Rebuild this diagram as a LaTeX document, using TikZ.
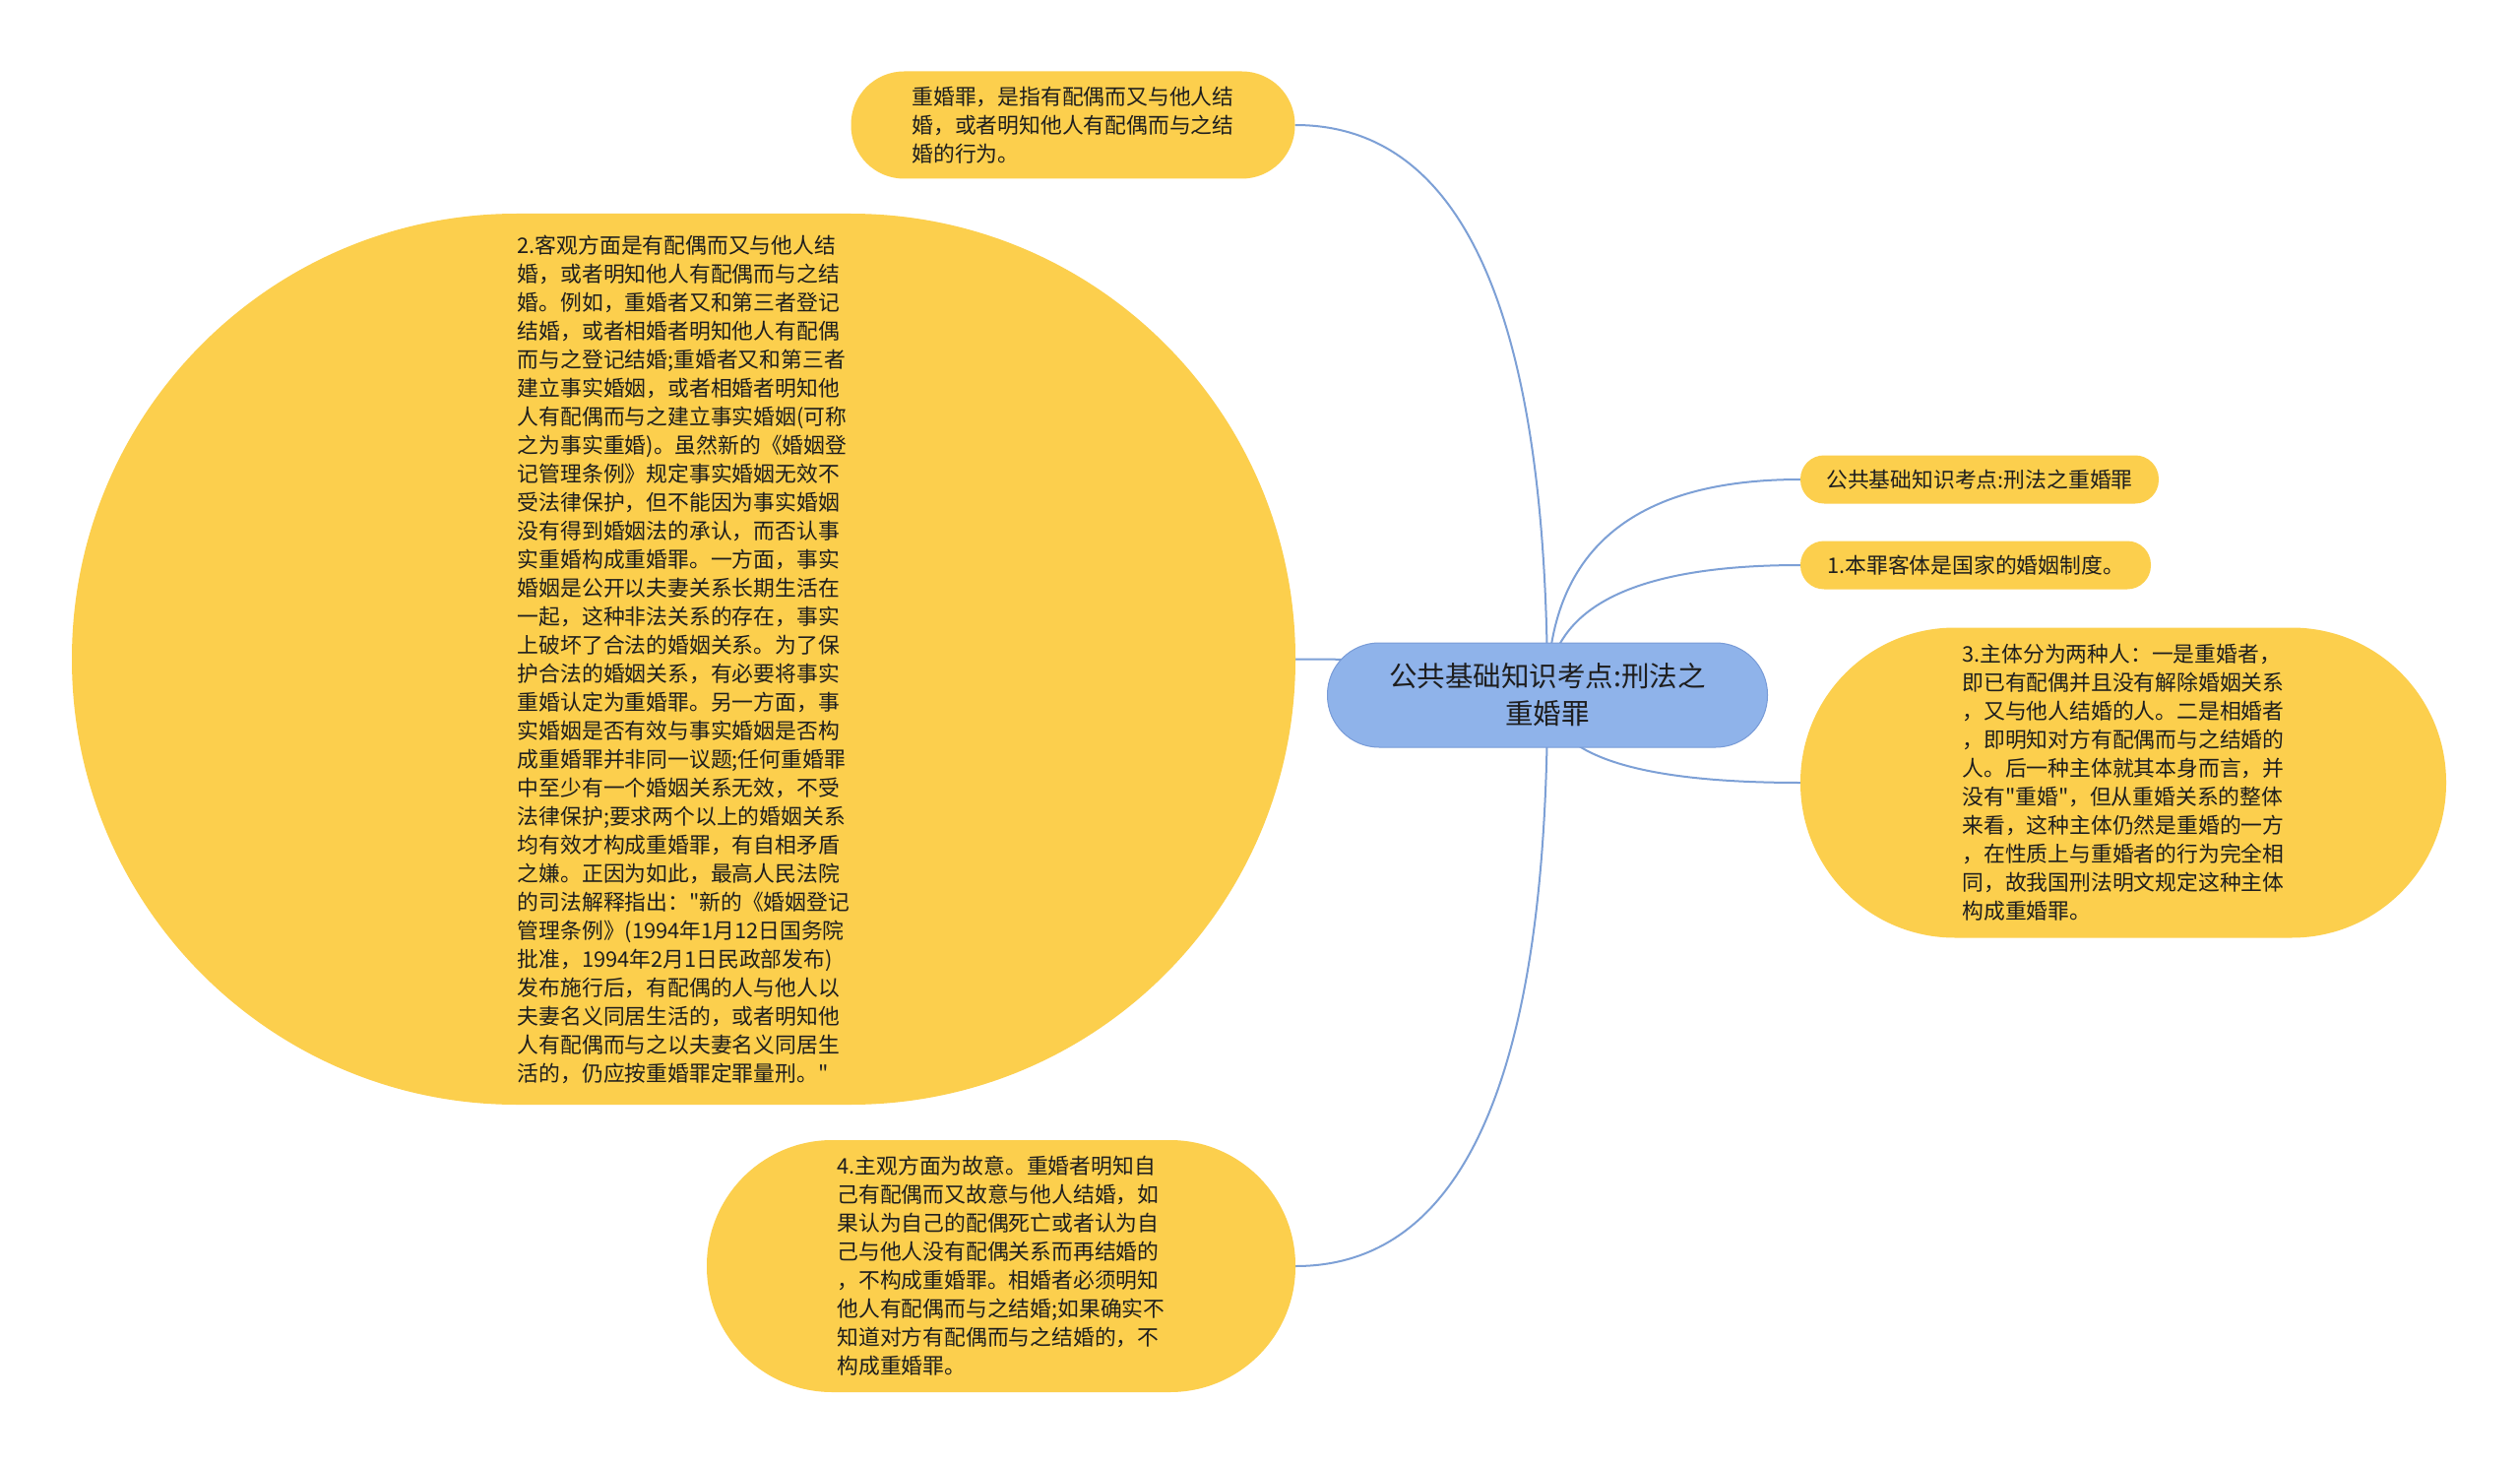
\documentclass[tikz,border=0pt]{standalone}
\usepackage{fontspec}
\newfontfamily\cjk{Noto Sans CJK SC}
\usetikzlibrary{backgrounds,calc}
\definecolor{nodeyellow}{RGB}{252,207,77}
\definecolor{rootblue}{RGB}{143,179,234}
\definecolor{rootedge}{RGB}{120,155,215}
\definecolor{linkblue}{RGB}{125,160,214}
\definecolor{txt}{RGB}{30,30,30}
\begin{document}
\begin{tikzpicture}[x=1pt,y=-1pt,
  leaf/.style={rectangle, fill=nodeyellow, inner sep=0pt, align=left, text=txt,
    font=\cjk\fontsize{21.8pt}{29pt}\selectfont},
  rootnode/.style={rectangle, fill=rootblue, draw=rootedge, line width=1pt, inner sep=0pt,
    align=center, text=txt, font=\cjk\fontsize{28.5pt}{38pt}\selectfont},
  link/.style={draw=linkblue, line width=2pt}]
\useasboundingbox (0,0) rectangle (2560,1487);

\node[rootnode, minimum width=447pt, minimum height=106pt, rounded corners=52.5pt] (root) at (1572,706)
  {公共基础知识考点:刑法之\\重婚罪};

\node[leaf, minimum width=451pt, minimum height=109pt, rounded corners=54pt] (top) at (1090,127)
  {重婚罪，是指有配偶而又与他人结\\婚，或者明知他人有配偶而与之结\\婚的行为。};

\node[leaf, minimum width=1243pt, minimum height=905pt, rounded corners=452pt] (big) at (694.5,669.5)
  {2.客观方面是有配偶而又与他人结\\
   婚，或者明知他人有配偶而与之结\\
   婚。例如，重婚者又和第三者登记\\
   结婚，或者相婚者明知他人有配偶\\
   而与之登记结婚;重婚者又和第三者\\
   建立事实婚姻，或者相婚者明知他\\
   人有配偶而与之建立事实婚姻(可称\\
   之为事实重婚)。虽然新的《婚姻登\\
   记管理条例》规定事实婚姻无效不\\
   受法律保护，但不能因为事实婚姻\\
   没有得到婚姻法的承认，而否认事\\
   实重婚构成重婚罪。一方面，事实\\
   婚姻是公开以夫妻关系长期生活在\\
   一起，这种非法关系的存在，事实\\
   上破坏了合法的婚姻关系。为了保\\
   护合法的婚姻关系，有必要将事实\\
   重婚认定为重婚罪。另一方面，事\\
   实婚姻是否有效与事实婚姻是否构\\
   成重婚罪并非同一议题;任何重婚罪\\
   中至少有一个婚姻关系无效，不受\\
   法律保护;要求两个以上的婚姻关系\\
   均有效才构成重婚罪，有自相矛盾\\
   之嫌。正因为如此，最高人民法院\\
   的司法解释指出："新的《婚姻登记\\
   管理条例》(1994年1月12日国务院\\
   批准，1994年2月1日民政部发布)\\
   发布施行后，有配偶的人与他人以\\
   夫妻名义同居生活的，或者明知他\\
   人有配偶而与之以夫妻名义同居生\\
   活的，仍应按重婚罪定罪量刑。"};

\node[leaf, minimum width=364pt, minimum height=49pt, rounded corners=24pt] (r1) at (2011,487)
  {公共基础知识考点:刑法之重婚罪};

\node[leaf, minimum width=356pt, minimum height=49pt, rounded corners=24pt] (r2) at (2007,574)
  {1.本罪客体是国家的婚姻制度。};

\node[leaf, minimum width=656pt, minimum height=315pt, rounded corners=157pt] (n3) at (2157,795)
  {3.主体分为两种人：一是重婚者，\\
   即已有配偶并且没有解除婚姻关系\\
   ，又与他人结婚的人。二是相婚者\\
   ，即明知对方有配偶而与之结婚的\\
   人。后一种主体就其本身而言，并\\
   没有"重婚"，但从重婚关系的整体\\
   来看，这种主体仍然是重婚的一方\\
   ，在性质上与重婚者的行为完全相\\
   同，故我国刑法明文规定这种主体\\
   构成重婚罪。};

\node[leaf, minimum width=598pt, minimum height=256pt, rounded corners=127.5pt] (n4) at (1017,1286)
  {4.主观方面为故意。重婚者明知自\\
   己有配偶而又故意与他人结婚，如\\
   果认为自己的配偶死亡或者认为自\\
   己与他人没有配偶关系而再结婚的\\
   ，不构成重婚罪。相婚者必须明知\\
   他人有配偶而与之结婚;如果确实不\\
   知道对方有配偶而与之结婚的，不\\
   构成重婚罪。};

\coordinate (kt) at (root.center |- top.east);
\coordinate (kb) at (root.center |- big.east);
\coordinate (k1) at (root.center |- r1.west);
\coordinate (k2) at (root.center |- r2.west);
\coordinate (k3) at (root.center |- n3.west);
\coordinate (k4) at (root.center |- n4.east);

\begin{scope}[on background layer]
  \fill[white] (0,0) rectangle (2560,1487);
  \draw[link] (root.center) .. controls ($(root.center)!0.667!(kt)$) and ($(top.east)!0.667!(kt)$) .. (top.east);
  \draw[link] (root.center) .. controls ($(root.center)!0.667!(kb)$) and ($(big.east)!0.667!(kb)$) .. (big.east);
  \draw[link] (root.center) .. controls ($(root.center)!0.667!(k1)$) and ($(r1.west)!0.667!(k1)$) .. (r1.west);
  \draw[link] (root.center) .. controls ($(root.center)!0.667!(k2)$) and ($(r2.west)!0.667!(k2)$) .. (r2.west);
  \draw[link] (root.center) .. controls ($(root.center)!0.667!(k3)$) and ($(n3.west)!0.667!(k3)$) .. (n3.west);
  \draw[link] (root.center) .. controls ($(root.center)!0.667!(k4)$) and ($(n4.east)!0.667!(k4)$) .. (n4.east);
\end{scope}
\end{tikzpicture}
\end{document}
